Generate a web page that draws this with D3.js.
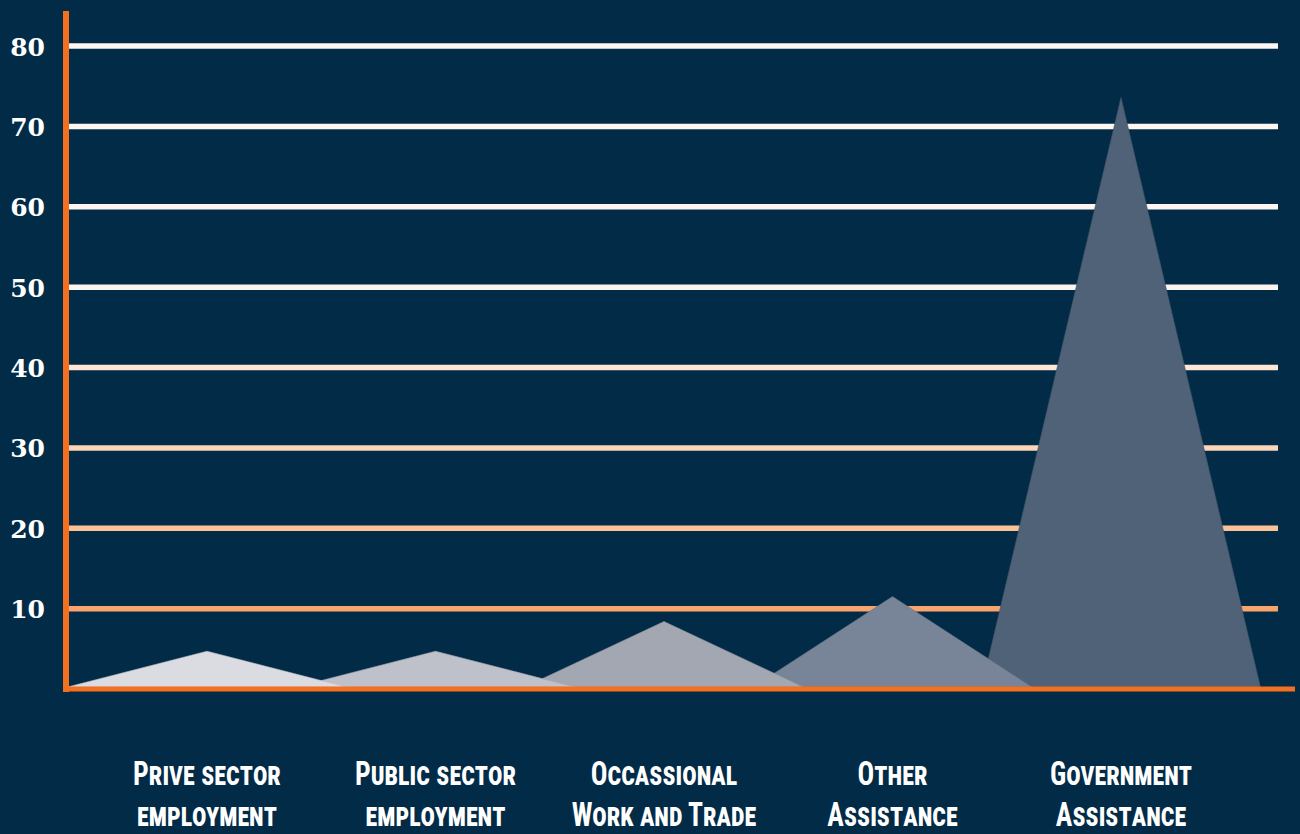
<!DOCTYPE html>
<html>
<head>
<meta charset="utf-8">
<script src="https://cdn.jsdelivr.net/npm/d3@7"></script>
<style>
  html, body { margin: 0; padding: 0; background: #022b47; }
  svg { display: block; }
</style>
</head>
<body>
<svg id="chart" width="1300" height="834"></svg>
<script>
// ---- data ----
const categories = ["Prive sector|employment", "Public sector|employment", "Occassional|Work and Trade", "Other|Assistance", "Government|Assistance"];
const values = [4.7, 4.7, 8.4, 11.5, 73.6];
const tickValues = [10, 20, 30, 40, 50, 60, 70, 80];
const tickLabels = ["10", "20", "30", "40", "50", "60", "70", "80"];
const gridColors = ["#f9a46c", "#fbc297", "#fcd5b9", "#fde6d6", "#fdf4ee", "#fdf6f1", "#fdf6f1", "#fdf6f1"];
const peakColors = ["#dadce2", "#bec1ca", "#a3a7b2", "#788598", "#506277"];

// ---- layout ----
const W = 1300, H = 834;
const plotLeft = 68, plotRight = 1278, plotTop = 11, plotBottom = 689;
const svg = d3.select("#chart");
svg.append("rect").attr("width", W).attr("height", H).attr("fill", "#022b47");

const y = d3.scaleLinear().domain([0, 80]).range([plotBottom, 46]);
const x = d3.scalePoint().domain(categories).range([207, 1121]);
const halfW = x.step() * 0.61;

// gridlines
svg.append("g").selectAll("line").data(tickValues).join("line")
  .attr("x1", plotLeft).attr("x2", plotRight)
  .attr("y1", d => y(d)).attr("y2", d => y(d))
  .attr("stroke", (d, i) => gridColors[i]).attr("stroke-width", 5.5);

// tick labels
svg.append("g").selectAll("text").data(tickValues).join("text")
  .attr("x", 45).attr("y", d => y(d) + 3)
  .attr("text-anchor", "end").attr("dominant-baseline", "middle")
  .attr("font-family", "DejaVu Serif").attr("font-weight", "bold")
  .attr("font-size", 25).attr("fill", "#ffffff")
  .text((d, i) => tickLabels[i]);

// peaks (drawn last-to-first so earlier peaks sit on top)
const data = categories.map((c, i) => ({ c, v: values[i], color: peakColors[i], i }));
const area = d3.line();
svg.append("g").selectAll("path").data(data.slice().reverse()).join("path")
  .attr("d", d => area([[x(d.c) - halfW, y(0) - 2], [x(d.c), y(d.v)], [x(d.c) + halfW, y(0) - 2]]) + "Z")
  .attr("fill", d => d.color)
  .attr("stroke", d => d3.color(d.color).darker(0.4)).attr("stroke-width", 0.6);

// axes lines
svg.append("line").attr("x1", 66).attr("x2", 66).attr("y1", plotTop).attr("y2", plotBottom + 3)
  .attr("stroke", "#f37021").attr("stroke-width", 6);
svg.append("line").attr("x1", 63).attr("x2", 1295).attr("y1", plotBottom).attr("y2", plotBottom)
  .attr("stroke", "#f37021").attr("stroke-width", 5);

// category labels
const lab = svg.append("g").selectAll("text").data(categories).join("text")
  .attr("text-anchor", "middle")
  .attr("font-family", "Liberation Sans Narrow, Roboto Condensed, sans-serif")
  .attr("font-weight", "bold").attr("font-size", 33)
  .attr("font-variant", "small-caps")
  .attr("fill", "#ffffff")
  .attr("transform", d => `translate(${x(d)},0) scale(0.84,1)`);
lab.each(function(d) {
  const parts = d.split("|");
  const t = d3.select(this);
  parts.forEach((p, k) => {
    t.append("tspan").attr("x", 0).attr("y", 785 + k * 41).text(p);
  });
});
</script>
</body>
</html>
